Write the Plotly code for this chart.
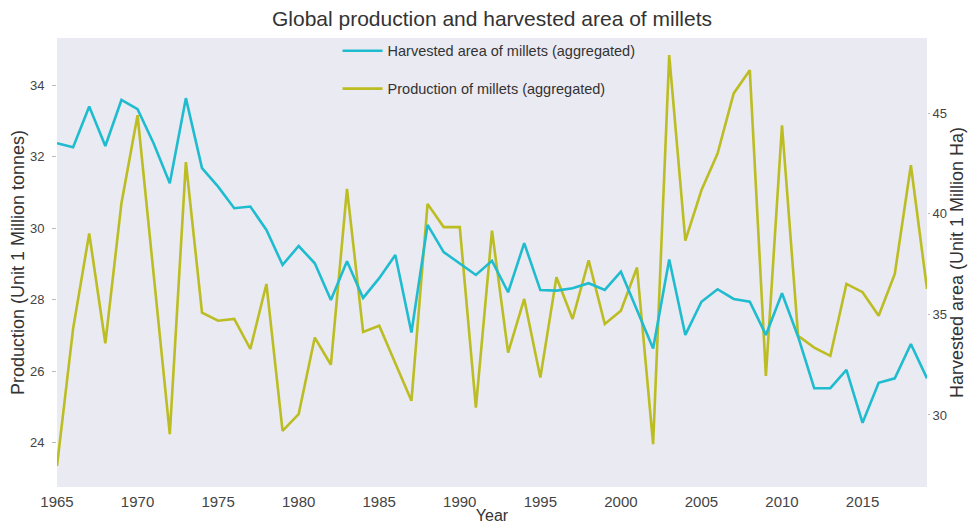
import plotly.graph_objects as go

years = list(range(1965, 2020))

harvested_area = [
    43.51, 43.31, 45.33, 43.37, 45.66, 45.20, 43.50, 41.52, 45.75, 42.27,
    41.35, 40.28, 40.36, 39.20, 37.46, 38.40, 37.54, 35.72, 37.64, 35.82,
    36.80, 37.95, 34.10, 39.45, 38.10, 37.51, 36.96, 37.66, 36.10, 38.54,
    36.21, 36.18, 36.30, 36.55, 36.22, 37.12, 35.22, 33.30, 37.73, 33.98,
    35.63, 36.25, 35.77, 35.63, 33.98, 36.05, 33.89, 31.33, 31.33, 32.24,
    29.61, 31.60, 31.82, 33.53, 31.82,
]

production = [
    23.35, 27.19, 29.85, 26.78, 30.70, 33.16, 28.70, 24.24, 31.85, 27.64,
    27.41, 27.46, 26.62, 28.44, 24.33, 24.80, 26.94, 26.18, 31.10, 27.10,
    27.27, 26.20, 25.17, 30.68, 30.03, 30.03, 24.98, 29.93, 26.52, 28.02,
    25.82, 28.63, 27.46, 29.10, 27.32, 27.69, 28.90, 23.96, 34.84, 29.65,
    31.06, 32.09, 33.77, 34.42, 25.87, 32.88, 26.99, 26.66, 26.43, 28.44,
    28.21, 27.55, 28.72, 31.76, 28.30,
]

x_ticks = list(range(1965, 2020, 5))
left_ticks = [24, 26, 28, 30, 32, 34]
right_ticks = [30, 35, 40, 45]

FONT = "Arial, Liberation Sans, sans-serif"

fig = go.Figure()
fig.add_trace(go.Scatter(
    x=years, y=harvested_area, mode="lines",
    name="Harvested area of millets (aggregated)",
    line=dict(color="#1fbccf", width=2.6),
    yaxis="y2", legendgroup="a",
))
fig.add_trace(go.Scatter(
    x=years, y=production, mode="lines",
    name="Production of millets (aggregated)",
    line=dict(color="#bcbd22", width=2.6),
    yaxis="y", legendgroup="b",
))

fig.update_layout(
    width=969, height=524, autosize=False,
    margin=dict(l=57, r=42, t=38, b=37, autoexpand=False),
    paper_bgcolor="white",
    plot_bgcolor="#eaeaf2",
    font=dict(family=FONT, color="#333333"),
    title=dict(
        text="Global production and harvested area of millets",
        xref="paper", x=0.5, xanchor="center", y=0.965, yanchor="middle",
        font=dict(size=21, color="#333333", family=FONT),
    ),
    xaxis=dict(
        range=[1965, 2019], tickvals=x_ticks, automargin=False,
        showgrid=False, zeroline=False, showline=False,
        ticks="outside", ticklen=1, tickcolor="white",
        tickfont=dict(size=15, color="#444444"),
        title=dict(text="Year", font=dict(size=16, color="#333333"), standoff=6),
    ),
    yaxis=dict(
        range=[22.76, 35.32], tickvals=left_ticks, automargin=False,
        showgrid=False, zeroline=False, showline=False,
        ticks="outside", ticklen=4, tickcolor="#bbbbbb",
        ticklabelstandoff=5,
        tickfont=dict(size=13, color="#444444"),
        title=dict(text="Production (Unit 1 Million tonnes)",
                   font=dict(size=18, color="#333333"), standoff=0),
    ),
    yaxis2=dict(
        range=[26.42, 48.74], tickvals=right_ticks, automargin=False,
        overlaying="y", side="right",
        showgrid=False, zeroline=False, showline=False,
        ticks="outside", ticklen=2, tickcolor="#bbbbbb",
        tickfont=dict(size=13, color="#444444"),
        title=dict(text="Harvested area (Unit 1 Million Ha)",
                   font=dict(size=18, color="#333333"), standoff=3),
    ),
    legend=dict(
        x=0.3225, y=1.007, xanchor="left", yanchor="top",
        bgcolor="rgba(0,0,0,0)", borderwidth=0,
        font=dict(size=14.5, color="#333333"),
        tracegroupgap=16, itemwidth=40,
    ),
    showlegend=True,
)

fig.write_html(
    "out.html",
    config={"displayModeBar": False},
    post_script="document.body.style.margin='0';document.body.style.padding='0';",
)
